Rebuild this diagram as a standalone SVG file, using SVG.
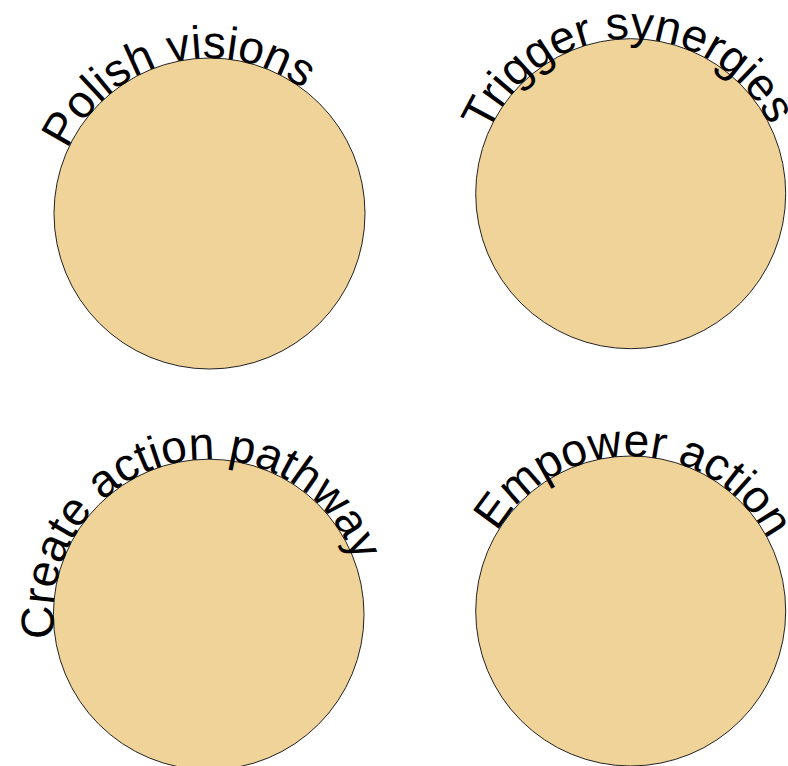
<svg xmlns="http://www.w3.org/2000/svg" xmlns:xlink="http://www.w3.org/1999/xlink" width="788" height="766" viewBox="0 0 788 766">
  <style>
    .node { fill: #f0d399; stroke: #222; stroke-width: 1; }
    .guide { fill: none; stroke: none; }
    .label { font-family: "Liberation Sans", Arial, sans-serif; font-size: 46px; fill: #000; }
  </style>
  <defs>
    <!-- Label baselines: full circles starting at the bottom point, running clockwise -->
    <path id="arc1" class="guide" d="M209.5,369 A155.5,155.5 0 1 1 209.5,58 A155.5,155.5 0 1 1 209.5,369"/>
    <path id="arc2" class="guide" d="M630.7,348.7 A155,155 0 1 1 630.7,38.7 A155,155 0 1 1 630.7,348.7"/>
    <path id="arc3" class="guide" d="M208.7,769.8 A155.3,155.3 0 1 1 208.7,459.2 A155.3,155.3 0 1 1 208.7,769.8"/>
    <path id="arc4" class="guide" d="M630.7,766 A155,155 0 1 1 630.7,456 A155,155 0 1 1 630.7,766"/>
  </defs>

  <g id="node-polish-visions">
    <circle class="node" cx="209.5" cy="213.5" r="155.5"/>
    <text class="label"><textPath xlink:href="#arc1" href="#arc1" startOffset="310">Polish visions</textPath></text>
  </g>

  <g id="node-trigger-synergies">
    <circle class="node" cx="630.7" cy="193.7" r="155"/>
    <text class="label"><textPath xlink:href="#arc2" href="#arc2" startOffset="306">Trigger synergies</textPath></text>
  </g>

  <g id="node-create-action-pathway">
    <circle class="node" cx="208.7" cy="614.5" r="155.3"/>
    <text class="label"><textPath xlink:href="#arc3" href="#arc3" startOffset="220">Create action pathway</textPath></text>
  </g>

  <g id="node-empower-action">
    <circle class="node" cx="630.7" cy="611" r="155"/>
    <text class="label"><textPath xlink:href="#arc4" href="#arc4" startOffset="326">Empower action</textPath></text>
  </g>

  <g id="connectors"></g>
</svg>
